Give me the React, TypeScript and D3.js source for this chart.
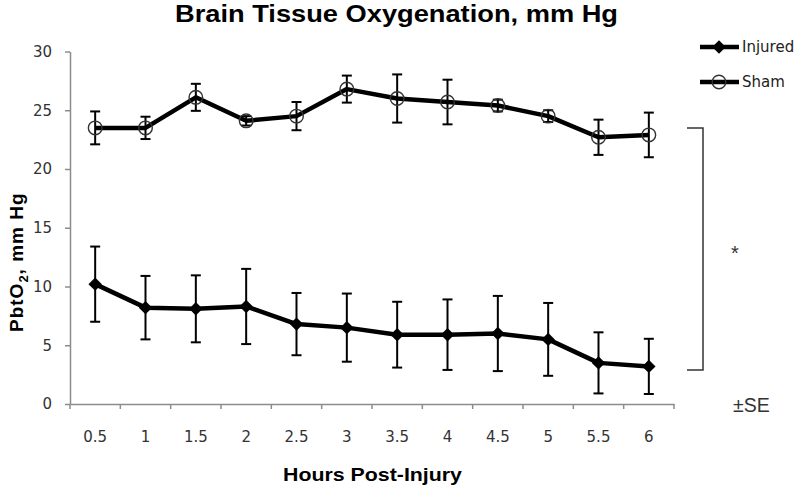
import * as d3 from 'd3';
import { useEffect, useRef } from 'react';

const hours = ['0.5', '1', '1.5', '2', '2.5', '3', '3.5', '4', '4.5', '5', '5.5', '6'];
const injuredMean = [10.2, 8.2, 8.1, 8.3, 6.8, 6.5, 5.9, 5.9, 6.0, 5.5, 3.5, 3.2];
const injuredSE = [3.2, 2.7, 2.85, 3.2, 2.65, 2.9, 2.8, 3.0, 3.2, 3.1, 2.6, 2.35];
const shamMean = [23.5, 23.5, 26.1, 24.1, 24.5, 26.8, 26.0, 25.7, 25.4, 24.5, 22.7, 22.9];
const shamSE = [1.4, 0.95, 1.15, 0.4, 1.2, 1.15, 2.05, 1.9, 0.5, 0.5, 1.5, 1.9];
const yTicks = [0, 5, 10, 15, 20, 25, 30];
const bracketRange = [2.9, 23.5];

interface Point {
    hour: string;
    mean: number;
    se: number;
}

const App: React.FC = () => {
    const container = useRef<HTMLDivElement | null>(null);

    useEffect(() => {
        if (!container.current) return;
        document.body.style.margin = '0';

        const width = 800;
        const height = 487;
        const left = 70;
        const right = 674;
        const bottom = 404;
        const top = 51.5;
        const tickFont = '"DejaVu Sans", Verdana, sans-serif';
        const boldFont = '"Liberation Sans", Arial, sans-serif';

        d3.select(container.current).selectAll('*').remove();

        const svg = d3.select(container.current).append('svg')
            .attr('width', width)
            .attr('height', height)
            .style('display', 'block')
            .style('background', '#fff');

        const x = d3.scaleBand<string>()
            .domain(hours)
            .range([left, right])
            .padding(0);
        const cx = (h: string) => x(h)! + x.bandwidth() / 2;

        const y = d3.scaleLinear()
            .domain([0, 30])
            .range([bottom, top]);

        // title
        svg.append('text')
            .attr('x', 175)
            .attr('y', 22)
            .attr('textLength', 443)
            .attr('lengthAdjust', 'spacingAndGlyphs')
            .style('font-family', boldFont)
            .style('font-weight', 'bold')
            .style('font-size', '24px')
            .text('Brain Tissue Oxygenation, mm Hg');

        // y axis
        const yAxis = svg.append('g')
            .attr('transform', `translate(${left},0)`)
            .call(d3.axisLeft(y).tickValues(yTicks).tickSize(5).tickSizeOuter(0).tickPadding(13));
        yAxis.select('.domain').attr('stroke', '#8c8c8c').attr('stroke-width', 1.5);
        yAxis.selectAll('.tick line').attr('stroke', '#8c8c8c').attr('stroke-width', 1.5);
        yAxis.selectAll('.tick text')
            .style('font-family', tickFont)
            .style('font-size', '15px')
            .attr('fill', '#333');

        // x axis
        const xAxis = svg.append('g')
            .attr('transform', `translate(0,${bottom})`)
            .call(d3.axisBottom(x).tickSize(0).tickSizeOuter(0).tickPadding(27));
        xAxis.select('.domain').attr('stroke', '#8c8c8c').attr('stroke-width', 1.5);
        xAxis.selectAll('.tick text')
            .style('font-family', tickFont)
            .style('font-size', '15px')
            .attr('fill', '#333');
        xAxis.selectAll('.boundary')
            .data([...hours.map(h => x(h)!), right])
            .enter().append('line')
            .attr('class', 'boundary')
            .attr('x1', d => d).attr('x2', d => d)
            .attr('y1', 0).attr('y2', 5)
            .attr('stroke', '#8c8c8c')
            .attr('stroke-width', 1.5);

        svg.append('text')
            .attr('x', 283)
            .attr('y', 481)
            .attr('textLength', 179)
            .attr('lengthAdjust', 'spacingAndGlyphs')
            .style('font-family', boldFont)
            .style('font-weight', 'bold')
            .style('font-size', '18.5px')
            .text('Hours Post-Injury');

        const yLabel = svg.append('text')
            .attr('transform', 'translate(23,332) rotate(-90)')
            .style('font-family', boldFont)
            .style('font-weight', 'bold')
            .style('font-size', '19px')
            .style('letter-spacing', '1px');
        yLabel.append('tspan').text('PbtO');
        yLabel.append('tspan').attr('dy', 5).style('font-size', '13px').text('2');
        yLabel.append('tspan').attr('dy', -5).text(', mm Hg');

        const injured: Point[] = hours.map((h, i) => ({ hour: h, mean: injuredMean[i], se: injuredSE[i] }));
        const sham: Point[] = hours.map((h, i) => ({ hour: h, mean: shamMean[i], se: shamSE[i] }));

        const line = d3.line<Point>()
            .x(d => cx(d.hour))
            .y(d => y(d.mean));

        const drawErrors = (data: Point[]) => {
            const g = svg.append('g').attr('stroke', '#000').attr('stroke-width', 2);
            data.forEach(d => {
                const px = cx(d.hour);
                const y1 = y(d.mean + d.se);
                const y2 = y(d.mean - d.se);
                g.append('line').attr('x1', px).attr('x2', px).attr('y1', y1).attr('y2', y2);
                g.append('line').attr('x1', px - 5).attr('x2', px + 5).attr('y1', y1).attr('y2', y1);
                g.append('line').attr('x1', px - 5).attr('x2', px + 5).attr('y1', y2).attr('y2', y2);
            });
        };

        drawErrors(injured);
        drawErrors(sham);

        [injured, sham].forEach(data => {
            svg.append('path')
                .datum(data)
                .attr('d', line)
                .attr('fill', 'none')
                .attr('stroke', '#000')
                .attr('stroke-width', 4.5)
                .attr('stroke-linejoin', 'round');
        });

        const diamond = d3.symbol().type(d3.symbolDiamond2).size(115);
        svg.selectAll('.inj')
            .data(injured)
            .enter().append('path')
            .attr('class', 'inj')
            .attr('transform', d => `translate(${cx(d.hour)},${y(d.mean)})`)
            .attr('d', diamond)
            .attr('fill', '#000');

        svg.selectAll('.sham')
            .data(sham)
            .enter().append('circle')
            .attr('class', 'sham')
            .attr('cx', d => cx(d.hour))
            .attr('cy', d => y(d.mean))
            .attr('r', 6.8)
            .attr('fill', 'none')
            .attr('stroke', '#333')
            .attr('stroke-width', 1.4);

        // legend
        const legend = [
            { name: 'Injured', y: 47 },
            { name: 'Sham', y: 82 }
        ];
        legend.forEach((item, i) => {
            svg.append('line')
                .attr('x1', 700).attr('x2', 739)
                .attr('y1', item.y).attr('y2', item.y)
                .attr('stroke', '#000')
                .attr('stroke-width', 4.5);
            if (i === 0) {
                svg.append('path')
                    .attr('transform', `translate(719,${item.y})`)
                    .attr('d', diamond)
                    .attr('fill', '#000');
            } else {
                svg.append('circle')
                    .attr('cx', 719).attr('cy', item.y).attr('r', 6.8)
                    .attr('fill', 'none').attr('stroke', '#333').attr('stroke-width', 1.4);
            }
            svg.append('text')
                .attr('x', 742)
                .attr('y', item.y + 5)
                .style('font-family', tickFont)
                .style('font-size', '15px')
                .attr('fill', '#222')
                .text(item.name);
        });

        // significance bracket
        const bTop = y(bracketRange[1]);
        const bBot = y(bracketRange[0]);
        svg.append('path')
            .attr('d', `M687,${bTop}H703V${bBot}H687`)
            .attr('fill', 'none')
            .attr('stroke', '#333')
            .attr('stroke-width', 1.5);
        svg.append('text')
            .attr('x', 735)
            .attr('y', (bTop + bBot) / 2 + 11)
            .attr('text-anchor', 'middle')
            .style('font-family', boldFont)
            .style('font-size', '20px')
            .attr('fill', '#333')
            .text('*');
        svg.append('text')
            .attr('x', 733)
            .attr('y', 412)
            .style('font-family', boldFont)
            .style('font-size', '19.5px')
            .attr('fill', '#333')
            .text('±SE');
    }, []);

    return <div ref={container} />;
};

export default App;
